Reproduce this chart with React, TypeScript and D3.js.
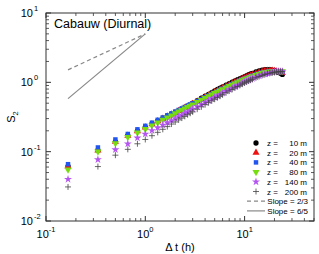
import React from "react";
import * as d3 from "d3";

// lag times in minutes
const lagMin = [
  10, 20, 30, 40, 50, 60, 70, 80, 90, 100, 110, 120, 130, 140, 150, 160, 170, 180,
  200, 220, 240, 260, 280, 300, 320, 340, 360,
  390, 420, 450, 480, 510, 540, 570, 600, 630, 660, 690, 720,
  780, 840, 900, 960, 1020, 1080, 1140, 1200, 1260, 1320, 1380, 1440,
];

const s10 = [
  0.062, 0.105, 0.14, 0.172, 0.2, 0.226, 0.252, 0.278, 0.302, 0.326, 0.348, 0.37, 0.392, 0.413, 0.434, 0.455, 0.476, 0.5,
  0.545, 0.59, 0.63, 0.67, 0.71, 0.75, 0.79, 0.825, 0.86,
  0.91, 0.96, 1.01, 1.05, 1.09, 1.13, 1.17, 1.21, 1.25, 1.29, 1.32, 1.35,
  1.41, 1.46, 1.5, 1.52, 1.53, 1.52, 1.5, 1.47, 1.43, 1.39, 1.35, 1.3,
];
const s20 = [
  0.061, 0.104, 0.139, 0.17, 0.198, 0.224, 0.25, 0.275, 0.299, 0.322, 0.344, 0.366, 0.388, 0.409, 0.43, 0.45, 0.47, 0.49,
  0.53, 0.57, 0.61, 0.648, 0.686, 0.722, 0.758, 0.792, 0.826,
  0.874, 0.92, 0.965, 1.005, 1.045, 1.083, 1.12, 1.155, 1.19, 1.222, 1.255, 1.285,
  1.34, 1.39, 1.43, 1.46, 1.475, 1.48, 1.475, 1.46, 1.44, 1.415, 1.39, 1.37,
];
const s40 = [
  0.066, 0.115, 0.15, 0.18, 0.21, 0.236, 0.262, 0.288, 0.312, 0.335, 0.357, 0.379, 0.4, 0.421, 0.441, 0.461, 0.48, 0.499,
  0.536, 0.572, 0.608, 0.643, 0.678, 0.712, 0.745, 0.778, 0.81,
  0.855, 0.9, 0.94, 0.98, 1.018, 1.055, 1.09, 1.124, 1.157, 1.188, 1.218, 1.247,
  1.3, 1.345, 1.38, 1.405, 1.42, 1.43, 1.432, 1.43, 1.43, 1.425, 1.42, 1.415,
];
const s80 = [
  0.055, 0.1, 0.132, 0.162, 0.188, 0.212, 0.238, 0.263, 0.287, 0.311, 0.333, 0.356, 0.378, 0.399, 0.42, 0.44, 0.46, 0.48,
  0.518, 0.556, 0.593, 0.629, 0.664, 0.698, 0.731, 0.764, 0.796,
  0.84, 0.883, 0.924, 0.963, 1.0, 1.036, 1.07, 1.103, 1.135, 1.165, 1.194, 1.222,
  1.275, 1.32, 1.36, 1.39, 1.41, 1.425, 1.435, 1.44, 1.445, 1.445, 1.445, 1.445,
];
const s140 = [
  0.04, 0.077, 0.107, 0.13, 0.158, 0.18, 0.202, 0.222, 0.242, 0.262, 0.282, 0.301, 0.32, 0.339, 0.358, 0.376, 0.394, 0.412,
  0.447, 0.481, 0.514, 0.547, 0.579, 0.61, 0.641, 0.671, 0.7,
  0.745, 0.788, 0.83, 0.87, 0.908, 0.945, 0.98, 1.014, 1.047, 1.078, 1.108, 1.137,
  1.19, 1.238, 1.28, 1.316, 1.346, 1.372, 1.393, 1.41, 1.423, 1.432, 1.438, 1.44,
];
const s200 = [
  0.031, 0.061, 0.089, 0.108, 0.13, 0.15, 0.17, 0.19, 0.21, 0.23, 0.25, 0.268, 0.287, 0.305, 0.323, 0.341, 0.358, 0.375,
  0.41, 0.443, 0.476, 0.508, 0.54, 0.571, 0.602, 0.632, 0.662,
  0.707, 0.75, 0.792, 0.832, 0.871, 0.909, 0.945, 0.98, 1.014, 1.046, 1.077, 1.107,
  1.163, 1.213, 1.258, 1.297, 1.33, 1.357, 1.38, 1.398, 1.412, 1.422, 1.428, 1.43,
];

const heights = ["10", "20", "40", "80", "140", "200"];
const seriesValues = [s10, s20, s40, s80, s140, s200];
const seriesColors = ["#000000", "#ee1111", "#2255ee", "#77dd11", "#b455f0", "#444444"];
const seriesShapes = ["circle", "triangle", "square", "triangleDown", "star", "plus"];

// reference slope lines: [dt start, dt end], value at dt = 1 h
const slopeRange = [1 / 6, 1];
const slopeRef = 5;
const slopes = [2 / 3, 6 / 5];
const slopeLabels = ["Slope = 2/3", "Slope = 6/5"];

const xDecades = [-1, 0, 1];
const yDecades = [-2, -1, 0, 1];

const FONT = "Liberation Sans, Arial, Helvetica, sans-serif";

const Marker: React.FC<{ shape: string; color: string; x: number; y: number }> = ({ shape, color, x, y }) => {
  if (shape === "plus") {
    const r = 3;
    return (
      <path
        d={`M${x - r},${y}H${x + r}M${x},${y - r}V${y + r}`}
        stroke={color}
        strokeWidth={0.8}
        fill="none"
      />
    );
  }
  let sym: d3.SymbolType = d3.symbolCircle;
  let size = 22;
  let rot = 0;
  if (shape === "triangle") { sym = d3.symbolTriangle; size = 22; }
  if (shape === "triangleDown") { sym = d3.symbolTriangle; size = 22; rot = 180; }
  if (shape === "square") { sym = d3.symbolSquare; size = 20; }
  if (shape === "star") { sym = d3.symbolStar; size = 20; }
  const d = d3.symbol(sym, size)() ?? "";
  return <path d={d} fill={color} transform={`translate(${x},${y}) rotate(${rot})`} />;
};

export default function App() {
  const width = 319;
  const height = 254;
  const left = 46;
  const right = 314;
  const top = 13;
  const bottom = 221;

  const x = d3.scaleLog().domain([0.1, 50]).range([left, right]);
  const y = d3.scaleLog().domain([0.01, 10]).range([bottom, top]);

  const xMinor: number[] = [];
  for (const e of [-1, 0, 1]) for (let m = 2; m <= 9; m++) {
    const v = m * Math.pow(10, e);
    if (v <= 50) xMinor.push(v);
  }
  const yMinor: number[] = [];
  for (const e of [-2, -1, 0]) for (let m = 2; m <= 9; m++) yMinor.push(m * Math.pow(10, e));

  const axisColor = "#333";
  const major = 5;
  const minor = 3;

  const slopeLine = (p: number) =>
    d3.line<number>()
      .x((t) => x(t))
      .y((t) => y(slopeRef * Math.pow(t, p)))(slopeRange) ?? "";

  const legX = 256;
  const legY0 = 143;
  const legDy = 9.7;

  return (
    <svg width={width} height={height} style={{ position: "absolute", left: 0, top: 0, background: "#fff" }} fontFamily={FONT}>
      <rect x={0} y={0} width={width} height={height} fill="#fff" />

      {/* slope reference lines */}
      <path d={slopeLine(slopes[0])} stroke="#888" strokeWidth={1.2} strokeDasharray="4,3" fill="none" />
      <path d={slopeLine(slopes[1])} stroke="#888" strokeWidth={1.2} fill="none" />

      {/* data */}
      {seriesValues.map((vals, si) => (
        <g key={si}>
          {vals.map((v, i) => (
            <Marker key={i} shape={seriesShapes[si]} color={seriesColors[si]} x={x(lagMin[i] / 60)} y={y(v)} />
          ))}
        </g>
      ))}

      {/* frame */}
      <rect x={left} y={top} width={right - left} height={bottom - top} fill="none" stroke={axisColor} strokeWidth={1} />

      {/* x ticks */}
      {xDecades.map((e) => {
        const px = x(Math.pow(10, e));
        return (
          <g key={"xm" + e}>
            <line x1={px} x2={px} y1={bottom} y2={bottom - major} stroke={axisColor} />
            <line x1={px} x2={px} y1={top} y2={top + major} stroke={axisColor} />
            <text x={px} y={238} textAnchor="middle" fontSize={11} fill="#000">
              10<tspan dy={-6} fontSize={7.5}>{e}</tspan>
            </text>
          </g>
        );
      })}
      {xMinor.map((v) => (
        <g key={"xn" + v}>
          <line x1={x(v)} x2={x(v)} y1={bottom} y2={bottom - minor} stroke={axisColor} strokeWidth={0.8} />
          <line x1={x(v)} x2={x(v)} y1={top} y2={top + minor} stroke={axisColor} strokeWidth={0.8} />
        </g>
      ))}

      {/* y ticks */}
      {yDecades.map((e) => {
        const py = y(Math.pow(10, e));
        return (
          <g key={"ym" + e}>
            <line x1={left} x2={left + major} y1={py} y2={py} stroke={axisColor} />
            <line x1={right} x2={right - major} y1={py} y2={py} stroke={axisColor} />
            <text x={33} y={py + 4} textAnchor="end" fontSize={11} fill="#000">10</text>
            <text x={34} y={py - 2} textAnchor="start" fontSize={7.5} fill="#000">{e}</text>
          </g>
        );
      })}
      {yMinor.map((v) => (
        <g key={"yn" + v}>
          <line x1={left} x2={left + minor} y1={y(v)} y2={y(v)} stroke={axisColor} strokeWidth={0.8} />
          <line x1={right} x2={right - minor} y1={y(v)} y2={y(v)} stroke={axisColor} strokeWidth={0.8} />
        </g>
      ))}

      {/* axis titles */}
      <text x={(left + right) / 2} y={251} textAnchor="middle" fontSize={11} fill="#000">Δ t (h)</text>
      <text transform={`translate(15,${(top + bottom) / 2}) rotate(-90)`} textAnchor="middle" fontSize={11} fill="#000">
        S<tspan dy={3} fontSize={7.5}>2</tspan>
      </text>

      {/* panel title */}
      <text x={54} y={28} fontSize={12.5} fill="#000">Cabauw (Diurnal)</text>

      {/* legend */}
      {heights.map((h, i) => {
        const ly = legY0 + i * legDy;
        return (
          <g key={"lg" + h}>
            <Marker shape={seriesShapes[i]} color={seriesColors[i]} x={legX} y={ly} />
            <text x={267} y={ly + 3} fontSize={8} fill="#000">z =</text>
            <text x={307} y={ly + 3} fontSize={8} fill="#000" textAnchor="end">{h} m</text>
          </g>
        );
      })}
      {slopeLabels.map((lab, i) => {
        const ly = legY0 + (heights.length + i) * legDy;
        return (
          <g key={"ls" + i}>
            <line x1={247} x2={265} y1={ly} y2={ly} stroke="#888" strokeWidth={1.2} strokeDasharray={i === 0 ? "4,3" : undefined} />
            <text x={308} y={ly + 3} fontSize={8} fill="#000" textAnchor="end">{lab}</text>
          </g>
        );
      })}
    </svg>
  );
}
